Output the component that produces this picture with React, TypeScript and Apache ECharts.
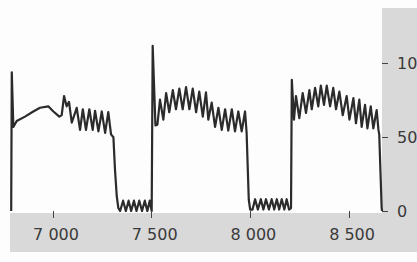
import React, { useEffect, useRef } from "react";
import * as echarts from "echarts";

// Cycle 1 (first plateau + low phase)
const cycle1X = [6788, 6791, 6799, 6816, 6858, 6900, 6934, 6976, 7002, 7032, 7044, 7056, 7069, 7081, 7095, 7120, 7137, 7151, 7167, 7184, 7201, 7213, 7230, 7247, 7264, 7280, 7294, 7306, 7314, 7323, 7331, 7340, 7355, 7369, 7383, 7396, 7410, 7423, 7437, 7451, 7465, 7478, 7490, 7500];
const cycle1Y = [0, 94, 57, 61, 64, 67.5, 70, 71, 67.5, 64, 65, 78, 71, 74, 60, 70, 55, 69, 55, 69, 55, 68, 54, 67.5, 53, 67, 52, 50, 28, 10, 2, 0, 7, 0, 7, 0, 7, 0, 7, 0, 7, 0, 7, 0];

// Cycle 2
const cycle2X = [7505, 7519, 7529, 7542, 7559, 7573, 7589, 7607, 7623, 7640, 7657, 7674, 7691, 7708, 7725, 7741, 7759, 7775, 7787, 7804, 7821, 7838, 7855, 7872, 7888, 7906, 7922, 7939, 7956, 7973, 7981, 7992, 7999, 8011, 8024, 8038, 8053, 8066, 8079, 8094, 8108, 8121, 8134, 8146, 8159, 8172, 8184, 8196, 8206];
const cycle2Y = [112, 58, 58.5, 75.5, 62, 80, 67, 82, 69, 83, 69, 84, 69, 83, 67, 81, 64, 80.5, 62, 73.5, 57, 70, 55, 69, 54.5, 69, 54, 67.5, 54, 67.5, 53, 7.5, 1, 1, 8, 1, 8, 1, 8, 1, 8, 1, 8, 1, 8, 1, 8, 1, 2];

// Cycle 3
const cycle3X = [8210, 8221, 8231, 8248, 8265, 8282, 8299, 8311, 8328, 8344, 8357, 8373, 8387, 8404, 8420, 8434, 8451, 8468, 8488, 8502, 8522, 8535, 8552, 8564, 8581, 8593, 8610, 8623, 8640, 8649, 8653, 8665, 8667];
const cycle3Y = [89, 62, 78, 63, 80, 66.5, 82, 69, 83.5, 71, 85, 72, 85, 71, 83.5, 69, 81, 65, 78, 62, 76.5, 59.5, 75.5, 57, 72, 56, 71, 56, 68.5, 55, 52, 3, 0];

const xTicks = [7000, 7500, 8000, 8500];
const yTicks = [0, 50, 100];

const xAll = [...cycle1X, ...cycle2X, ...cycle3X];
const yAll = [...cycle1Y, ...cycle2Y, ...cycle3Y];

const fmtThousands = (v: number) => {
  const s = String(Math.round(v));
  return s.length > 3 ? s.slice(0, s.length - 3) + " " + s.slice(-3) : s;
};

export default function App() {
  const ref = useRef<HTMLDivElement>(null);
  useEffect(() => {
    if (!ref.current) return;
    const chart = echarts.init(ref.current, undefined, { renderer: "svg" });
    const font = "DejaVu Sans";
    chart.setOption({
      animation: false,
      backgroundColor: "#fdfdfd",
      graphic: {
        elements: [
          { type: "rect", z: -10, silent: true, shape: { x: 10, y: 213, width: 407, height: 39 }, style: { fill: "#d9d9d9" } },
          { type: "rect", z: -10, silent: true, shape: { x: 382, y: 8, width: 35, height: 244 }, style: { fill: "#d9d9d9" } },
        ],
      },
      grid: { left: 10, right: 35, top: 9, bottom: 51, containLabel: false, outerBoundsMode: "none" },
      xAxis: {
        type: "value",
        min: 6782,
        max: 8667,
        offset: 3,
        z: 5,
        axisLine: { show: false },
        splitLine: { show: false },
        axisTick: { show: true, length: 7, customValues: xTicks, lineStyle: { color: "#444", width: 1 } },
        axisLabel: {
          customValues: xTicks,
          margin: 12,
          fontFamily: font,
          fontSize: 16,
          color: "#3a3a3a",
          padding: [0, 0, 0, 6],
          formatter: (v: number) => fmtThousands(v),
        },
      },
      yAxis: {
        type: "value",
        position: "right",
        min: 0,
        max: 137,
        z: 5,
        axisLine: { show: false },
        splitLine: { show: false },
        axisTick: { show: true, length: 6, customValues: yTicks, lineStyle: { color: "#444", width: 1 } },
        axisLabel: {
          customValues: yTicks,
          margin: 15,
          fontFamily: font,
          fontSize: 16,
          color: "#3a3a3a",
        },
      },
      series: [
        {
          type: "line",
          data: xAll.map((x, i) => [x, yAll[i]]),
          showSymbol: false,
          symbol: "none",
          lineStyle: { color: "#2b2b2b", width: 2.2, join: "round" },
          clip: true,
        },
      ],
    });
    return () => chart.dispose();
  }, []);
  return <div ref={ref} style={{ position: "fixed", left: 0, top: 0, width: 417, height: 262 }} />;
}
